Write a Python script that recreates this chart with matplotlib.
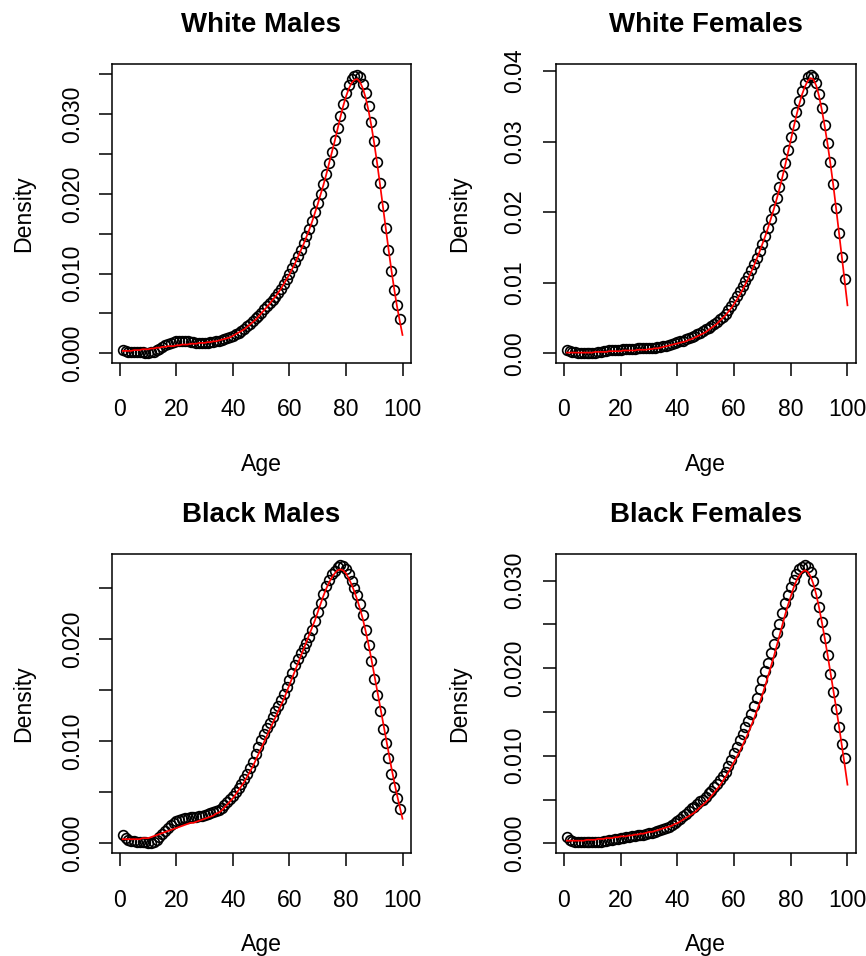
import matplotlib
matplotlib.use("Agg")
import matplotlib.pyplot as plt

plt.rcParams['font.family'] = ['Liberation Sans', 'DejaVu Sans']

# ---------------- data ----------------
ages = list(range(1, 100))
line_ages = list(range(1, 101))
xticks = [0, 20, 40, 60, 80, 100]

titles = ["White Males", "White Females", "Black Males", "Black Females"]

wm_points = [0.0004, 0.0003, 0.0002, 0.0002, 0.0002, 0.0001, 0.0001, 0.0001, 0.0000, 0.0000,
             0.0001, 0.0002, 0.0004, 0.0006, 0.0008, 0.0010, 0.0012, 0.0013, 0.0014, 0.0015,
             0.0016, 0.0016, 0.0016, 0.0015, 0.0014, 0.0014, 0.0013, 0.0013, 0.0013, 0.0013,
             0.0013, 0.0014, 0.0014, 0.0015, 0.0016, 0.0017, 0.0018, 0.0019, 0.0021, 0.0022,
             0.0024, 0.0026, 0.0028, 0.0031, 0.0034, 0.0037, 0.0040, 0.0044, 0.0047, 0.0051,
             0.0055, 0.0059, 0.0063, 0.0067, 0.0071, 0.0076, 0.0081, 0.0087, 0.0093, 0.0100,
             0.0107, 0.0114, 0.0122, 0.0130, 0.0138, 0.0147, 0.0156, 0.0166, 0.0177, 0.0188,
             0.0200, 0.0212, 0.0225, 0.0239, 0.0253, 0.0268, 0.0283, 0.0298, 0.0313, 0.0326,
             0.0336, 0.0344, 0.0348, 0.0349, 0.0346, 0.0338, 0.0326, 0.0310, 0.0290, 0.0266,
             0.0240, 0.0213, 0.0185, 0.0157, 0.0129, 0.0103, 0.0080, 0.0060, 0.0043]

wf_points = [0.0005, 0.0003, 0.0002, 0.0002, 0.0001, 0.0001, 0.0001, 0.0001, 0.0001, 0.0001,
             0.0001, 0.0002, 0.0002, 0.0003, 0.0003, 0.0004, 0.0004, 0.0005, 0.0005, 0.0005,
             0.0006, 0.0006, 0.0006, 0.0006, 0.0006, 0.0007, 0.0007, 0.0007, 0.0007, 0.0008,
             0.0008, 0.0008, 0.0009, 0.0009, 0.0010, 0.0011, 0.0012, 0.0013, 0.0014, 0.0016,
             0.0017, 0.0018, 0.0020, 0.0021, 0.0023, 0.0025, 0.0027, 0.0029, 0.0031, 0.0034,
             0.0036, 0.0039, 0.0042, 0.0045, 0.0048, 0.0052, 0.0056, 0.0061, 0.0067, 0.0074,
             0.0081, 0.0088, 0.0095, 0.0102, 0.0110, 0.0118, 0.0126, 0.0135, 0.0145, 0.0155,
             0.0166, 0.0178, 0.0191, 0.0205, 0.0220, 0.0236, 0.0253, 0.0270, 0.0288, 0.0306,
             0.0324, 0.0342, 0.0358, 0.0372, 0.0383, 0.0391, 0.0394, 0.0392, 0.0383, 0.0367,
             0.0347, 0.0323, 0.0298, 0.0271, 0.0240, 0.0206, 0.0171, 0.0137, 0.0106]

bm_points = [0.0008, 0.0005, 0.0003, 0.0002, 0.0002, 0.0001, 0.0001, 0.0001, 0.0001, 0.0000,
             0.0000, 0.0001, 0.0003, 0.0006, 0.0009, 0.0012, 0.0015, 0.0018, 0.0020, 0.0022,
             0.0023, 0.0024, 0.0025, 0.0025, 0.0026, 0.0026, 0.0026, 0.0027, 0.0027, 0.0028,
             0.0029, 0.0030, 0.0031, 0.0032, 0.0033, 0.0035, 0.0037, 0.0040, 0.0043, 0.0046,
             0.0050, 0.0054, 0.0058, 0.0063, 0.0068, 0.0074, 0.0080, 0.0087, 0.0094, 0.0101,
             0.0107, 0.0113, 0.0118, 0.0124, 0.0129, 0.0134, 0.0140, 0.0146, 0.0153, 0.0160,
             0.0167, 0.0174, 0.0180, 0.0186, 0.0191, 0.0196, 0.0202, 0.0209, 0.0217, 0.0226,
             0.0235, 0.0244, 0.0252, 0.0258, 0.0263, 0.0266, 0.0270, 0.0272, 0.0271, 0.0268,
             0.0263, 0.0257, 0.0250, 0.0243, 0.0234, 0.0223, 0.0209, 0.0194, 0.0178, 0.0161,
             0.0145, 0.0129, 0.0112, 0.0098, 0.0083, 0.0068, 0.0055, 0.0044, 0.0034]

bf_points = [0.0007, 0.0004, 0.0003, 0.0002, 0.0002, 0.0001, 0.0001, 0.0001, 0.0001, 0.0001,
             0.0001, 0.0002, 0.0002, 0.0003, 0.0003, 0.0004, 0.0004, 0.0005, 0.0005, 0.0006,
             0.0006, 0.0007, 0.0007, 0.0008, 0.0008, 0.0009, 0.0009, 0.0010, 0.0011, 0.0012,
             0.0012, 0.0013, 0.0014, 0.0015, 0.0016, 0.0017, 0.0019, 0.0021, 0.0023, 0.0025,
             0.0028, 0.0031, 0.0034, 0.0037, 0.0040, 0.0042, 0.0045, 0.0048, 0.0050, 0.0053,
             0.0057, 0.0060, 0.0064, 0.0068, 0.0072, 0.0077, 0.0082, 0.0088, 0.0095, 0.0103,
             0.0110, 0.0118, 0.0125, 0.0133, 0.0140, 0.0148, 0.0157, 0.0166, 0.0176, 0.0187,
             0.0197, 0.0206, 0.0217, 0.0228, 0.0240, 0.0251, 0.0263, 0.0274, 0.0284, 0.0293,
             0.0301, 0.0308, 0.0313, 0.0316, 0.0318, 0.0316, 0.0310, 0.0300, 0.0286, 0.0270,
             0.0253, 0.0235, 0.0215, 0.0194, 0.0173, 0.0153, 0.0133, 0.0114, 0.0097]

wm_line = [0.0003, 0.0003, 0.0003, 0.0003, 0.0004, 0.0004, 0.0004, 0.0005, 0.0005, 0.0005,
           0.0006, 0.0006, 0.0007, 0.0007, 0.0008, 0.0008, 0.0009, 0.0009, 0.0009, 0.0010,
           0.0010, 0.0011, 0.0011, 0.0011, 0.0012, 0.0012, 0.0012, 0.0013, 0.0013, 0.0013,
           0.0014, 0.0014, 0.0015, 0.0015, 0.0016, 0.0017, 0.0018, 0.0019, 0.0020, 0.0022,
           0.0024, 0.0026, 0.0028, 0.0030, 0.0033, 0.0036, 0.0039, 0.0042, 0.0046, 0.0050,
           0.0054, 0.0058, 0.0062, 0.0067, 0.0071, 0.0076, 0.0081, 0.0087, 0.0093, 0.0099,
           0.0106, 0.0113, 0.0121, 0.0129, 0.0137, 0.0146, 0.0155, 0.0165, 0.0176, 0.0187,
           0.0199, 0.0211, 0.0224, 0.0238, 0.0252, 0.0266, 0.0281, 0.0296, 0.0310, 0.0322,
           0.0332, 0.0339, 0.0343, 0.0344, 0.0340, 0.0332, 0.0320, 0.0304, 0.0285, 0.0263,
           0.0239, 0.0213, 0.0186, 0.0159, 0.0132, 0.0106, 0.0082, 0.0060, 0.0041, 0.0023]

wf_line = [0.0001, 0.0001, 0.0001, 0.0001, 0.0001, 0.0001, 0.0001, 0.0001, 0.0001, 0.0001,
           0.0002, 0.0002, 0.0002, 0.0002, 0.0002, 0.0003, 0.0003, 0.0003, 0.0003, 0.0003,
           0.0004, 0.0004, 0.0004, 0.0004, 0.0004, 0.0005, 0.0005, 0.0005, 0.0005, 0.0006,
           0.0006, 0.0007, 0.0007, 0.0008, 0.0009, 0.0010, 0.0011, 0.0012, 0.0013, 0.0014,
           0.0015, 0.0016, 0.0017, 0.0019, 0.0020, 0.0022, 0.0024, 0.0026, 0.0028, 0.0030,
           0.0033, 0.0036, 0.0039, 0.0042, 0.0046, 0.0050, 0.0054, 0.0059, 0.0064, 0.0070,
           0.0076, 0.0083, 0.0090, 0.0098, 0.0106, 0.0115, 0.0124, 0.0134, 0.0144, 0.0155,
           0.0166, 0.0178, 0.0191, 0.0204, 0.0218, 0.0233, 0.0249, 0.0266, 0.0284, 0.0302,
           0.0320, 0.0337, 0.0353, 0.0367, 0.0378, 0.0386, 0.0390, 0.0388, 0.0379, 0.0364,
           0.0344, 0.0321, 0.0296, 0.0268, 0.0238, 0.0205, 0.0171, 0.0137, 0.0103, 0.0068]

bm_line = [0.0004, 0.0004, 0.0004, 0.0004, 0.0004, 0.0004, 0.0004, 0.0005, 0.0005, 0.0005,
           0.0006, 0.0007, 0.0008, 0.0009, 0.0010, 0.0011, 0.0012, 0.0013, 0.0014, 0.0015,
           0.0016, 0.0017, 0.0018, 0.0019, 0.0020, 0.0020, 0.0021, 0.0022, 0.0023, 0.0024,
           0.0025, 0.0026, 0.0027, 0.0029, 0.0030, 0.0032, 0.0035, 0.0038, 0.0041, 0.0044,
           0.0048, 0.0052, 0.0056, 0.0060, 0.0065, 0.0070, 0.0075, 0.0081, 0.0087, 0.0093,
           0.0099, 0.0105, 0.0111, 0.0117, 0.0123, 0.0129, 0.0135, 0.0141, 0.0148, 0.0155,
           0.0162, 0.0169, 0.0176, 0.0183, 0.0190, 0.0197, 0.0204, 0.0211, 0.0218, 0.0226,
           0.0234, 0.0242, 0.0249, 0.0255, 0.0260, 0.0264, 0.0267, 0.0268, 0.0267, 0.0264,
           0.0259, 0.0253, 0.0246, 0.0238, 0.0229, 0.0219, 0.0207, 0.0194, 0.0180, 0.0165,
           0.0150, 0.0135, 0.0120, 0.0105, 0.0090, 0.0075, 0.0061, 0.0048, 0.0036, 0.0024]

bf_line = [0.0003, 0.0003, 0.0003, 0.0003, 0.0003, 0.0003, 0.0003, 0.0004, 0.0004, 0.0004,
           0.0004, 0.0005, 0.0005, 0.0005, 0.0006, 0.0006, 0.0006, 0.0007, 0.0007, 0.0008,
           0.0008, 0.0008, 0.0009, 0.0009, 0.0010, 0.0010, 0.0011, 0.0011, 0.0012, 0.0013,
           0.0013, 0.0014, 0.0015, 0.0016, 0.0017, 0.0018, 0.0019, 0.0020, 0.0022, 0.0023,
           0.0025, 0.0027, 0.0029, 0.0031, 0.0033, 0.0035, 0.0038, 0.0041, 0.0044, 0.0047,
           0.0050, 0.0054, 0.0058, 0.0062, 0.0066, 0.0071, 0.0076, 0.0081, 0.0087, 0.0093,
           0.0099, 0.0105, 0.0112, 0.0119, 0.0126, 0.0134, 0.0142, 0.0151, 0.0160, 0.0170,
           0.0180, 0.0191, 0.0202, 0.0213, 0.0225, 0.0237, 0.0249, 0.0261, 0.0272, 0.0282,
           0.0292, 0.0300, 0.0306, 0.0310, 0.0312, 0.0310, 0.0305, 0.0296, 0.0284, 0.0269,
           0.0252, 0.0234, 0.0215, 0.0195, 0.0175, 0.0155, 0.0134, 0.0112, 0.0090, 0.0067]

wm_yticks = [0.000, 0.005, 0.010, 0.015, 0.020, 0.025, 0.030, 0.035]
wm_ylabels = ["0.000", "", "0.010", "", "0.020", "", "0.030", ""]
wf_yticks = [0.00, 0.01, 0.02, 0.03, 0.04]
wf_ylabels = ["0.00", "0.01", "0.02", "0.03", "0.04"]
bm_yticks = [0.000, 0.005, 0.010, 0.015, 0.020, 0.025]
bm_ylabels = ["0.000", "", "0.010", "", "0.020", ""]
bf_yticks = [0.000, 0.005, 0.010, 0.015, 0.020, 0.025, 0.030]
bf_ylabels = ["0.000", "", "0.010", "", "0.020", "", "0.030"]

# ---------------- layout (pixels) ----------------
W, H = 866, 956
TICK_FS = 16.6
TITLE_FS = 19.9
TICK_LEN_PX = 13.5
PX2PT = 72.0 / 100.0

panels = [
    dict(title=titles[0], pts=wm_points, line=wm_line, yt=wm_yticks, yl=wm_ylabels,
         ylim=(-0.00118, 0.03625), box=(111.7, 64.3, 410.7, 362.7), ylab_off=41.7, dens_x=23.3),
    dict(title=titles[1], pts=wf_points, line=wf_line, yt=wf_yticks, yl=wf_ylabels,
         ylim=(-0.00133, 0.04095), box=(555.7, 64.3, 855.7, 362.7), ylab_off=43.2, dens_x=459.5),
    dict(title=titles[2], pts=bm_points, line=bm_line, yt=bm_yticks, yl=bm_ylabels,
         ylim=(-0.00098, 0.02827), box=(111.7, 554.3, 410.7, 853.3), ylab_off=40.9, dens_x=23.3),
    dict(title=titles[3], pts=bf_points, line=bf_line, yt=bf_yticks, yl=bf_ylabels,
         ylim=(-0.00114, 0.03302), box=(555.7, 554.3, 855.7, 853.3), ylab_off=43.2, dens_x=459.5),
]
age_label_y = [465, 465, 945, 945]

fig = plt.figure(figsize=(W / 100, H / 100), dpi=100)

for i, p in enumerate(panels):
    l, t, r, b = p["box"]
    ax = fig.add_axes([l / W, 1 - b / H, (r - l) / W, (b - t) / H])
    ax.plot(ages, p["pts"], linestyle="none", marker="o", markersize=7.0,
            markerfacecolor="none", markeredgecolor="black", markeredgewidth=1.2)
    ax.plot(line_ages, p["line"], color="#FF0000", linewidth=1.25)
    ax.set_xlim(-2.9, 102.9)
    ax.set_ylim(*p["ylim"])
    ax.set_xticks(xticks)
    ax.set_xticklabels([str(v) for v in xticks])
    ax.set_yticks(p["yt"])
    ax.set_yticklabels(p["yl"], rotation=90, ha="center", va="center")
    for s in ax.spines.values():
        s.set_linewidth(1.1)
    ax.tick_params(axis="both", direction="out", length=TICK_LEN_PX * PX2PT, width=1.1,
                   labelsize=TICK_FS, colors="black")
    ax.tick_params(axis="x", pad=(35.8 - TICK_LEN_PX) * PX2PT)
    ax.tick_params(axis="y", pad=(p["ylab_off"] - 2.3 - TICK_LEN_PX) * PX2PT)

    cx = (l + r) / 2
    fig.text(cx / W, 1 - (t - 32.6) / H, p["title"], ha="center", va="baseline",
             fontsize=TITLE_FS, fontweight="bold")
    fig.text(cx / W, 1 - age_label_y[i] / H, "Age", ha="center", va="center", fontsize=TICK_FS)
    fig.text(p["dens_x"] / W, 1 - ((t + b) / 2) / H, "Density", rotation=90,
             ha="center", va="center", fontsize=TICK_FS)

fig.savefig("out.png", dpi=100)
